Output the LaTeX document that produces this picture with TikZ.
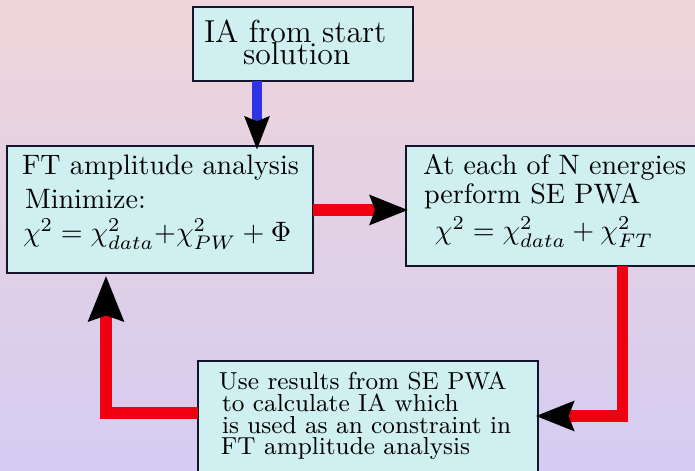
\documentclass[tikz,border=0pt]{standalone}
\usetikzlibrary{arrows.meta}
\definecolor{bgtop}{RGB}{239,213,217}
\definecolor{bgbot}{RGB}{212,204,242}
\definecolor{boxfill}{RGB}{208,239,240}
\definecolor{boxline}{RGB}{20,20,45}
\definecolor{flowred}{RGB}{238,0,16}
\definecolor{flowblue}{RGB}{46,52,230}
\newcommand{\rowtxt}[2]{\hbox{\smash{\hspace*{#1}#2}}}
\begin{document}
\begin{tikzpicture}[x=0.356pt,y=-0.356pt,
  box/.style={draw=boxline,line width=0.75pt,fill=boxfill,inner sep=0pt,outer sep=0pt},
  txt/.style={anchor=base west,inner sep=0pt,outer sep=0pt},
  fbig/.style={font=\fontsize{11.3}{13}\selectfont},
  fmid/.style={font=\fontsize{10}{12}\selectfont},
  fsmall/.style={font=\fontsize{8.75}{10.5}\selectfont},
  redline/.style={draw=flowred,line width=4.27pt,miter limit=10},
  blueline/.style={draw=flowblue,line width=3.8pt},
  redtip/.style={-{Stealth[length=13.5pt,width=10.2pt,inset=1.7pt,color=black]}},
  uptip/.style={-{Stealth[length=16pt,width=12.1pt,inset=1.8pt,color=black]}},
  bluetip/.style={-{Stealth[length=11.7pt,width=8.5pt,inset=1.5pt,color=black]}}]
\useasboundingbox (0,0) rectangle (695,471);
\clip (0,0) rectangle (695,471);
\shade[top color=bgtop,bottom color=bgbot] (0,0) rectangle (695,471);

% boxes
\node[box,minimum width=78.32pt,minimum height=26.34pt] (top) at (303,44) {};
\node[box,minimum width=108.94pt,minimum height=45.21pt] (left) at (160,209.5) {};
\node[box,minimum width=111.78pt,minimum height=42.72pt] (right) at (563,206) {};
\node[box,minimum width=121.04pt,minimum height=45.92pt] (bottom) at (368,425.5) {};

% texts
\node[txt,fbig] (ttop) at (204,43) {\vtop{\offinterlineskip
  \rowtxt{0pt}{IA from start}\kern7.83pt
  \rowtxt{13.9pt}{solution}}};

\node[txt,fmid] (tleft) at (22,175) {\vtop{\offinterlineskip
  \rowtxt{0pt}{FT amplitude analysis}\kern11.75pt
  \rowtxt{1.07pt}{Minimize:}\kern12.1pt
  \rowtxt{0.36pt}{$\chi^2=\chi^2_{data}{+}\chi^2_{PW}+\Phi$}}};

\node[txt,fmid] (tright) at (423,175) {\vtop{\offinterlineskip
  \rowtxt{0pt}{At each of N energies}\kern9.97pt
  \rowtxt{0.36pt}{perform SE PWA}\kern13.17pt
  \rowtxt{4.27pt}{$\chi^2=\chi^2_{data}+\chi^2_{FT}$}}};

\node[txt,fsmall] (tbottom) at (219,390) {\vtop{\offinterlineskip
  \rowtxt{0pt}{Use results from SE PWA}\kern7.48pt
  \rowtxt{1.07pt}{to calculate IA which}\kern7.83pt
  \rowtxt{1.07pt}{is used as an constraint in}\kern7.83pt
  \rowtxt{0.71pt}{FT amplitude analysis}}};

% helper coordinates
\coordinate (bx) at (257,0);
\coordinate (ry) at (0,210);
\coordinate (c2) at (622.5,416);
\coordinate (c3) at (106,413);

% connectors
\draw[blueline,bluetip] (top.south -| bx) -- ([yshift=-1.4pt]left.north -| bx);
\draw[redline,redtip] (left.east |- ry) -- ([xshift=0.8pt]right.west |- ry);
\draw[redline,redtip] (right.south -| c2) -- (c2) -- ([xshift=-0.9pt]bottom.east |- c2);
\draw[redline,uptip] (bottom.west |- c3) -- (c3) -- ([yshift=-0.9pt]left.south -| c3);
\end{tikzpicture}
\end{document}
